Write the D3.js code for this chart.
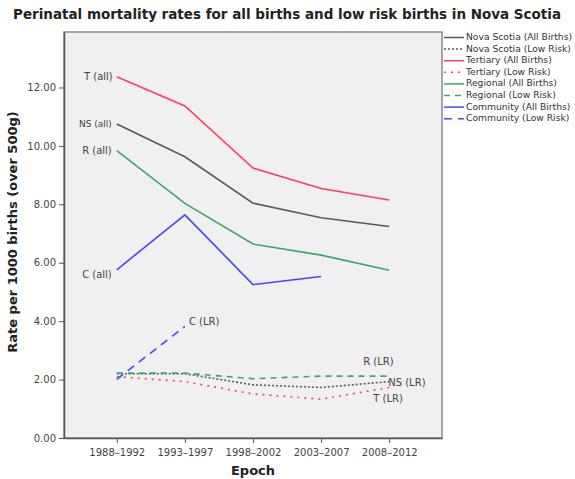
<!DOCTYPE html>
<html><head><meta charset="utf-8">
<script src="https://cdn.jsdelivr.net/npm/d3@7/dist/d3.min.js"></script>
<style>body{margin:0;background:#fff;} svg{display:block;font-family:"DejaVu Sans",sans-serif;}</style>
</head><body><svg id="c" width="575" height="479"></svg>
<script>
const epochs = ["1988–1992","1993–1997","1998–2002","2003–2007","2008–2012"];
const yTicks = [0,2,4,6,8,10,12];
const nsAll   = [10.75, 9.63, 8.04, 7.54, 7.24];
const nsLR    = [2.20, 2.20, 1.82, 1.73, 1.93];
const tAll    = [12.37, 11.37, 9.24, 8.54, 8.15];
const tLR     = [2.10, 1.93, 1.51, 1.33, 1.73];
const rAll    = [9.84, 8.03, 6.64, 6.26, 5.74];
const rLR     = [2.22, 2.22, 2.03, 2.12, 2.12];
const cAll    = [5.76, 7.64, 5.25, 5.53, null];
const cLR     = [2.01, 3.82, null, null, null];
const seriesNames = ["Nova Scotia (All Births)","Nova Scotia (Low Risk)","Tertiary (All Births)","Tertiary (Low Risk)","Regional (All Births)","Regional (Low Risk)","Community (All Births)","Community (Low Risk)"];
const seriesValues = [nsAll, nsLR, tAll, tLR, rAll, rLR, cAll, cLR];
const colors = {ns:"#5a5a5a", t:"#ff3d63", r:"#3aa866", c:"#4646ff"};
const seriesColors = [colors.ns, colors.ns, colors.t, colors.t, colors.r, colors.r, colors.c, colors.c];
const seriesDash = [null, "2,2", null, "2,5", null, "6,5", null, "8,6"];

const svg = d3.select("#c");
const L=64, R=442, T=32, B=438;
const x = d3.scalePoint().domain(epochs).range([L,R]).padding(0.775);
const y = d3.scaleLinear().domain([0,13.9]).range([B,T]);

svg.append("rect").attr("x",L).attr("y",T).attr("width",R-L).attr("height",B-T)
  .attr("fill","#f0f0f0").attr("stroke","#8a8a8a").attr("stroke-width",1.5);

const yAxis = svg.append("g").attr("transform",`translate(${L},0)`)
  .call(d3.axisLeft(y).tickValues(yTicks).tickFormat(d3.format(".2f")).tickSize(5).tickSizeOuter(0));
yAxis.select(".domain").attr("stroke","#555").attr("stroke-width",1.5);
yAxis.selectAll(".tick line").attr("stroke","#555");
yAxis.selectAll("text").attr("font-size",10).attr("fill","#444").attr("font-family","DejaVu Sans");

const xAxis = svg.append("g").attr("transform",`translate(0,${B})`)
  .call(d3.axisBottom(x).tickSize(5).tickSizeOuter(0));
xAxis.select(".domain").attr("stroke","#555").attr("stroke-width",1.5);
xAxis.selectAll(".tick line").attr("stroke","#555");
xAxis.selectAll("text").attr("font-size",10).attr("fill","#444").attr("font-family","DejaVu Sans").attr("dy","0.95em");

const line = d3.line().defined(d=>d.v!=null).x(d=>x(d.e)).y(d=>y(d.v));
seriesValues.forEach((vals,i)=>{
  const data = vals.map((v,j)=>({e:epochs[j], v}));
  svg.append("path").datum(data).attr("d",line).attr("fill","none")
    .attr("stroke",seriesColors[i]).attr("stroke-width",1.6)
    .attr("stroke-dasharray",seriesDash[i]);
});

// direct labels
const lab = (t,xx,yy,anchor,fs)=>svg.append("text").attr("x",xx).attr("y",yy).attr("text-anchor",anchor)
  .attr("font-size",fs||10).attr("fill","#444").attr("dominant-baseline","middle").text(t);
const x0 = x(epochs[0]);
lab("T (all)", x0-4, y(tAll[0]), "end");
lab("NS (all)", x0-5, y(nsAll[0]), "end", 9);
lab("R (all)", x0-5, y(rAll[0]), "end");
lab("C (all)", x0-5, y(cAll[0])+5, "end");
lab("C (LR)", x(epochs[1])+4, y(cLR[1])-4, "start");
const x4 = x(epochs[4]);
lab("R (LR)", x4-26, y(rLR[4])-14, "start");
lab("NS (LR)", x4-1, y(nsLR[4])+1, "start");
lab("T (LR)", x4-16, y(tLR[4])+12, "start");

// titles
svg.append("text").attr("x",287).attr("y",19).attr("text-anchor","middle")
  .attr("font-size",13.5).attr("font-weight","bold").attr("fill","#222")
  .attr("textLength",548).attr("lengthAdjust","spacingAndGlyphs")
  .text("Perinatal mortality rates for all births and low risk births in Nova Scotia");
svg.append("text").attr("transform",`translate(17,232) rotate(-90)`).attr("text-anchor","middle")
  .attr("font-size",13).attr("font-weight","bold").attr("fill","#222").text("Rate per 1000 births (over 500g)");
svg.append("text").attr("x",253).attr("y",475).attr("text-anchor","middle")
  .attr("font-size",13).attr("font-weight","bold").attr("fill","#222").text("Epoch");

// legend
const lg = svg.append("g");
seriesNames.forEach((n,i)=>{
  const yy = 37.5 + i*11.6;
  lg.append("line").attr("x1",444).attr("x2",464).attr("y1",yy).attr("y2",yy)
    .attr("stroke",seriesColors[i]).attr("stroke-width",1.5).attr("stroke-dasharray",seriesDash[i]);
  lg.append("text").attr("x",466).attr("y",yy).attr("dominant-baseline","middle")
    .attr("font-size",9.2).attr("fill","#333").text(n);
});
</script></body></html>
